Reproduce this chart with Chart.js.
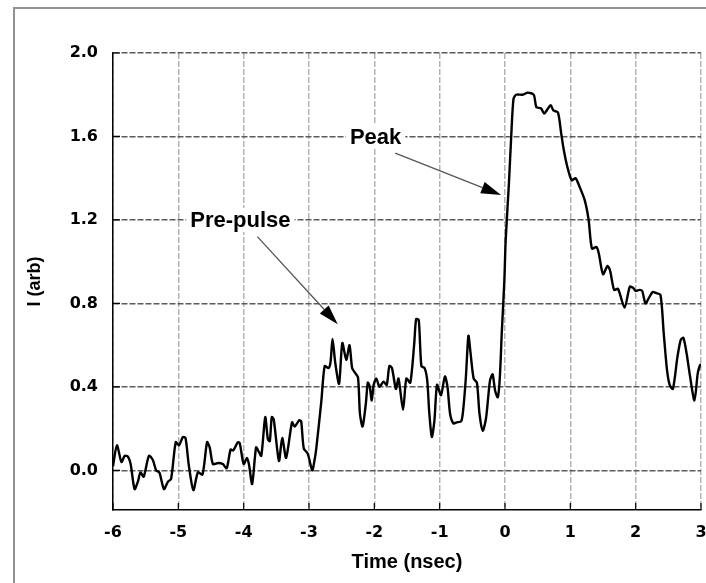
<!DOCTYPE html>
<html><head><meta charset="utf-8">
<script src="https://cdn.jsdelivr.net/npm/chart.js@4.4.1/dist/chart.umd.min.js"></script>
<style>
html,body{margin:0;padding:0;background:#fff;}
#wrap{position:relative;width:706px;height:583px;overflow:hidden;background:#fff;}
#frame{position:absolute;left:13px;top:7px;width:800px;height:700px;border-left:2px solid #929292;border-top:2px solid #929292;}
canvas{position:absolute;left:0;top:0;}
</style></head><body>
<div id="wrap"><div id="frame"></div><canvas id="c" width="706" height="583"></canvas></div>
<script>
// ---- data ----
const timeNs = [
-6.00,-5.94,-5.87,-5.82,-5.77,-5.73,-5.67,-5.62,-5.58,-5.53,-5.45,-5.39,-5.34,-5.29,-5.22,-5.16,-5.11,
-5.04,-4.99,-4.93,-4.89,-4.84,-4.77,-4.70,-4.63,-4.56,-4.52,-4.47,-4.39,-4.32,-4.26,-4.20,-4.16,-4.09,
-4.06,-4.00,-3.95,-3.92,-3.87,-3.81,-3.77,-3.73,-3.67,-3.63,-3.60,-3.57,-3.54,-3.46,-3.41,-3.35,-3.26,
-3.22,-3.15,-3.12,-3.08,-3.02,-2.95,-2.92,-2.89,-2.81,-2.76,-2.70,-2.67,-2.64,-2.60,-2.54,-2.49,-2.43,
-2.38,-2.34,-2.30,-2.25,-2.22,-2.18,-2.13,-2.10,-2.07,-2.04,-2.01,-1.97,-1.92,-1.86,-1.81,-1.77,-1.73,
-1.67,-1.63,-1.56,-1.51,-1.45,-1.39,-1.36,-1.32,-1.28,-1.23,-1.19,-1.16,-1.12,-1.08,-1.04,-0.98,-0.92,
-0.88,-0.84,-0.79,-0.74,-0.67,-0.64,-0.60,-0.56,-0.53,-0.48,-0.43,-0.39,-0.34,-0.29,-0.23,-0.19,-0.15,
-0.11,-0.08,-0.05,-0.01,0.01,0.06,0.095,0.13,0.17,0.27,0.35,0.44,0.48,0.55,0.60,0.65,0.70,0.74,0.81,
0.86,0.90,0.95,1.02,1.08,1.14,1.22,1.28,1.33,1.40,1.435,1.50,1.57,1.61,1.67,1.73,1.83,1.91,1.96,2.00,
2.06,2.10,2.15,2.21,2.26,2.31,2.38,2.43,2.48,2.52,2.57,2.64,2.69,2.73,2.78,2.83,2.90,2.95,2.98,3.00
];
const intensity = [
0.02,0.12,0.04,0.07,0.065,0.03,-0.09,-0.055,-0.01,-0.03,0.07,0.05,0.00,-0.01,-0.09,-0.055,-0.04,
0.135,0.12,0.16,0.155,0.025,-0.095,-0.01,-0.02,0.135,0.11,0.03,0.035,0.03,0.01,0.10,0.095,0.135,
0.13,0.03,0.06,0.03,-0.065,0.11,0.09,0.07,0.255,0.15,0.14,0.255,0.245,0.045,0.155,0.06,0.23,
0.21,0.24,0.235,0.105,0.08,0.00,0.04,0.10,0.335,0.50,0.49,0.52,0.63,0.52,0.415,0.61,0.53,
0.60,0.49,0.47,0.445,0.27,0.21,0.32,0.42,0.40,0.335,0.41,0.44,0.40,0.425,0.41,0.50,0.49,
0.39,0.44,0.29,0.44,0.42,0.605,0.725,0.72,0.50,0.49,0.43,0.28,0.16,0.24,0.41,0.36,0.45,
0.40,0.27,0.225,0.23,0.235,0.29,0.44,0.645,0.57,0.44,0.42,0.27,0.19,0.25,0.43,0.46,0.38,
0.35,0.44,0.655,0.91,1.10,1.375,1.60,1.78,1.80,1.80,1.81,1.80,1.74,1.735,1.71,1.73,1.75,1.725,1.715,
1.615,1.535,1.46,1.39,1.40,1.36,1.295,1.20,1.063,1.07,1.04,0.94,0.98,0.955,0.865,0.87,0.78,0.88,0.875,0.86,
0.865,0.86,0.80,0.83,0.855,0.85,0.84,0.655,0.48,0.41,0.39,0.545,0.625,0.635,0.56,0.455,0.335,0.465,0.50,0.51
];
const xTickValues = [-6,-5,-4,-3,-2,-1,0,1,2,3];
const yTickValues = [0.0,0.4,0.8,1.2,1.6,2.0];
const xTitle = 'Time (nsec)';
const yTitle = 'I (arb)';
const labelTexts = ['Pre-pulse','Peak'];
const labelAnchors = [[-4.05,1.2],[-1.98,1.6]];
const arrowFrom = [[-3.79,1.12],[-1.68,1.52]];
const arrowTo = [[-2.56,0.70],[-0.06,1.32]];

const points = timeNs.map((t,i)=>({x:t,y:intensity[i]}));

const TICK_FONT = {family:'"DejaVu Sans", sans-serif', size:16, weight:'bold'};

const decorPlugin = {
  id:'decor',
  beforeDatasetsDraw(chart){
    const {ctx, scales:{x,y}} = chart;
    ctx.save();
    for(let i=0;i<arrowFrom.length;i++){
      const x1=x.getPixelForValue(arrowFrom[i][0]), y1=y.getPixelForValue(arrowFrom[i][1]);
      const x2=x.getPixelForValue(arrowTo[i][0]), y2=y.getPixelForValue(arrowTo[i][1]);
      const ang=Math.atan2(y2-y1,x2-x1);
      const L=20, W=6;
      const bx=x2-L*Math.cos(ang), by=y2-L*Math.sin(ang);
      ctx.strokeStyle='#555'; ctx.lineWidth=1.3; ctx.setLineDash([]);
      ctx.beginPath(); ctx.moveTo(x1,y1); ctx.lineTo(bx,by); ctx.stroke();
      ctx.fillStyle='#000';
      ctx.beginPath();
      ctx.moveTo(x2,y2);
      ctx.lineTo(bx+W*Math.sin(ang), by-W*Math.cos(ang));
      ctx.lineTo(bx-W*Math.sin(ang), by+W*Math.cos(ang));
      ctx.closePath(); ctx.fill();
    }
    ctx.font='bold 22px "Liberation Sans", Arial, sans-serif';
    ctx.textAlign='center'; ctx.textBaseline='middle';
    for(let i=0;i<labelTexts.length;i++){
      const px=x.getPixelForValue(labelAnchors[i][0]), py=y.getPixelForValue(labelAnchors[i][1]);
      const w=ctx.measureText(labelTexts[i]).width;
      ctx.fillStyle='#fff';
      ctx.fillRect(px-w/2-4, py-12, w+8, 24);
      ctx.fillStyle='#000';
      ctx.fillText(labelTexts[i], px, py+1);
    }
    ctx.restore();
  },
  afterDatasetsDraw(chart){
    const {ctx, chartArea:a, scales:{x,y}} = chart;
    ctx.save();
    ctx.strokeStyle='#000'; ctx.lineWidth=1.2;
    ctx.beginPath();
    x.ticks.forEach(t=>{ const px=x.getPixelForValue(t.value); ctx.moveTo(px,a.bottom); ctx.lineTo(px,a.bottom-7); });
    y.ticks.forEach(t=>{ const py=y.getPixelForValue(t.value); ctx.moveTo(a.left,py); ctx.lineTo(a.left+7,py); });
    ctx.stroke();
    ctx.restore();
  }
};

new Chart(document.getElementById('c'), {
  type:'line',
  data:{ datasets:[{ data:points, borderColor:'#000', borderWidth:2.4, pointRadius:0, tension:0.25, fill:false }] },
  options:{
    responsive:false, animation:false, devicePixelRatio:1,
    layout:{ padding:{ left:0, top:53, right:5, bottom:0 } },
    plugins:{ legend:{display:false}, tooltip:{enabled:false} },
    scales:{
      x:{
        type:'linear', min:-6, max:3,
        afterBuildTicks(s){ s.ticks = xTickValues.map(v=>({value:v})); },
        afterFit(s){ s.height = 73; s.paddingLeft = 0; s.paddingRight = 0; },
        ticks:{ color:'#000', font:TICK_FONT, padding:13, maxRotation:0, autoSkip:false, callback:v=>String(v) },
        grid:{ color:'#b4b4b4', lineWidth:1.5, drawTicks:false },
        border:{ display:true, color:'#000', width:1.5, dash:[6,2] },
        title:{ display:true, text:xTitle, color:'#000', font:{family:'"Liberation Sans", Arial, sans-serif', size:20, weight:'bold'}, padding:{top:0,bottom:9} }
      },
      y:{
        type:'linear', min:-0.19, max:2.0,
        afterBuildTicks(s){ s.ticks = yTickValues.map(v=>({value:v})); },
        afterFit(s){ s.width = 113; s.paddingTop = 0; s.paddingBottom = 0; },
        ticks:{ color:'#000', font:TICK_FONT, padding:15, autoSkip:false, callback:v=>Number(v).toFixed(1) },
        grid:{ color:'#5a5a5a', lineWidth:1.5, drawTicks:false },
        border:{ display:true, color:'#000', width:1.5, dash:[6,2] },
        title:{ display:true, text:yTitle, color:'#000', font:{family:'"Liberation Sans", Arial, sans-serif', size:18, weight:'bold'}, padding:{top:24,bottom:0} }
      }
    }
  },
  plugins:[decorPlugin]
});
</script>
</body></html>
